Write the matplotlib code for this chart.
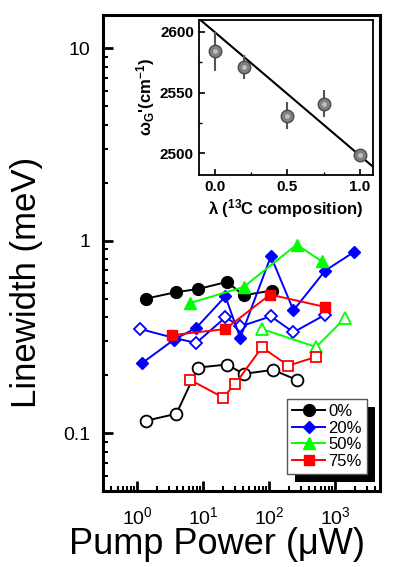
import numpy as np
import matplotlib
matplotlib.use("Agg")
import matplotlib.pyplot as plt
from matplotlib.patches import Rectangle
from matplotlib.transforms import IdentityTransform
from matplotlib.ticker import FixedLocator, NullFormatter, LogLocator

plt.rcParams["font.family"] = ["Liberation Sans", "DejaVu Sans"]
plt.rcParams["mathtext.fontset"] = "custom"
plt.rcParams["mathtext.rm"] = "Liberation Sans"
plt.rcParams["mathtext.it"] = "Liberation Sans:italic"
plt.rcParams["mathtext.bf"] = "Liberation Sans:bold"

# main panel: linewidth vs pump power (filled / open symbols per 13C fraction)
p0_f = [1.37, 3.9, 8.3, 22.9, 40.8, 110]
w0_f = [0.50, 0.54, 0.56, 0.61, 0.52, 0.55]
p0_o = [1.37, 3.9, 8.3, 22.9, 40.8, 114, 261]
w0_o = [0.116, 0.126, 0.219, 0.227, 0.203, 0.213, 0.189]

p20_f = [1.18, 3.6, 7.8, 21.6, 36.3, 106, 233, 706, 1900]
w20_f = [0.231, 0.306, 0.352, 0.513, 0.312, 0.829, 0.434, 0.698, 0.869]
p20_o = [1.11, 3.6, 7.8, 21.6, 36.3, 106, 233, 706]
w20_o = [0.347, 0.312, 0.294, 0.399, 0.358, 0.404, 0.334, 0.412]

p50_f = [6.3, 40.8, 261, 625]
w50_f = [0.474, 0.574, 0.953, 0.780]
p50_o = [77.5, 515, 1420]
w50_o = [0.347, 0.280, 0.396]

p75_f = [3.4, 21.6, 103, 706]
w75_f = [0.323, 0.347, 0.524, 0.452]
p75_o = [6.3, 19.9, 30.5, 77.5, 195, 515]
w75_o = [0.189, 0.153, 0.180, 0.279, 0.224, 0.249]

labels = ["0%", "20%", "50%", "75%"]

# inset: G' frequency vs 13C composition
lam = [0.0, 0.2, 0.5, 0.75, 1.0]
wg = [2584, 2571, 2531, 2541, 2499]
wg_err = [16, 10, 11, 11, 0]
lam_fit = [-0.11, 1.09]
wg_fit = [2611, 2489]

fig = plt.figure(figsize=(3.93, 5.67), dpi=100)
ax = fig.add_axes([0.262, 0.134, 0.705, 0.840])

series = [
    (p0_f, w0_f, p0_o, w0_o, "k", "o", 8.5),
    (p20_f, w20_f, p20_o, w20_o, "#0000ff", "D", 6.5),
    (p50_f, w50_f, p50_o, w50_o, "#00ff00", "^", 8.5),
    (p75_f, w75_f, p75_o, w75_o, "#ff0000", "s", 7),
]
handles = []
for (pf, wf, po, wo, c, m, ms), lab in zip(series, labels):
    ax.plot(po, wo, color=c, marker=m, ms=ms, mfc="white", mec=c, mew=1.3, lw=1.4)
    h, = ax.plot(pf, wf, color=c, marker=m, ms=ms, mfc=c, mec=c, lw=1.4, label=lab)
    handles.append(h)

ax.set_xscale("log")
ax.set_yscale("log")
ax.set_xlim(0.3, 4800)
ax.set_ylim(0.05, 14.9)
ax.yaxis.set_major_locator(FixedLocator([0.1, 1, 10]))
ax.set_yticklabels(["0.1", "1", "10"])
ax.yaxis.set_minor_locator(LogLocator(subs=np.arange(2, 10)))
ax.yaxis.set_minor_formatter(NullFormatter())
ax.xaxis.set_major_locator(FixedLocator([1, 10, 100, 1000]))
ax.xaxis.set_minor_locator(LogLocator(subs=np.arange(2, 10)))
ax.xaxis.set_minor_formatter(NullFormatter())
ax.tick_params(which="both", direction="in", top=False, right=False, labelsize=14)
ax.tick_params(which="major", length=7, width=2)
ax.tick_params(which="minor", length=3.5, width=1.5)
ax.tick_params(axis="y", which="major", pad=9)
ax.tick_params(axis="x", which="major", pad=11)
for s in ax.spines.values():
    s.set_linewidth(2.2)
ax.set_xlabel("Pump Power (\u03bcW)", fontsize=26)
ax.set_ylabel("Linewidth (meV)", fontsize=25)
ax.xaxis.set_label_coords(0.41, -0.076)
ax.yaxis.set_label_coords(-0.215, 0.437)

leg = ax.legend(handles=handles, loc="lower right", bbox_to_anchor=(0.953, 0.036),
                borderaxespad=0, fontsize=12, fancybox=False, framealpha=1,
                edgecolor="#555555", handlelength=2.0, handletextpad=0.2,
                labelspacing=0.1, borderpad=0.3)
leg.get_frame().set_linewidth(1.0)

# inset
ins = fig.add_axes([0.506, 0.691, 0.443, 0.274])
ins.plot(lam_fit, wg_fit, color="k", lw=1.5, zorder=2)
ins.errorbar(lam, wg, yerr=wg_err, fmt="none", ecolor="#555555", elinewidth=1.5, capsize=0, zorder=3)
ins.plot(lam, wg, ls="none", marker="o", ms=9, mfc="#808080", mec="#4a4a4a", mew=1, zorder=4)
ins.plot(lam, wg, ls="none", marker="o", ms=3.5, mfc="#d0d0d0", mec="none", alpha=0.8, zorder=5)
ins.set_xlim(-0.11, 1.09)
ins.set_ylim(2482, 2610)
ins.set_xticks([0, 0.5, 1.0])
ins.set_xticklabels(["0.0", "0.5", "1.0"])
ins.set_xticks([0.25, 0.75], minor=True)
ins.set_yticks([2500, 2550, 2600])
ins.set_yticks([2525, 2575], minor=True)
ins.tick_params(which="both", direction="in", labelsize=11)
ins.tick_params(which="major", length=4, width=1.2)
ins.tick_params(which="minor", length=2, width=1)
for t in ins.get_xticklabels() + ins.get_yticklabels():
    t.set_fontweight("bold")
for s in ins.spines.values():
    s.set_linewidth(1.3)
ins.set_xlabel("\u03bb ($^{\\mathbf{13}}$C composition)", fontsize=12, fontweight="bold", labelpad=2)
ins.set_ylabel("\u03c9$_{\\mathbf{G}}$'(cm$^{\\mathbf{-1}}$)", fontsize=12, fontweight="bold", labelpad=2)

# black drop shadow behind the legend
fig.canvas.draw()
bb = leg.get_window_extent()
ax.add_patch(Rectangle((bb.x0 + 8, bb.y0 - 8), bb.width, bb.height, transform=IdentityTransform(),
                       facecolor="k", edgecolor="none", clip_on=False, zorder=4.5))

fig.savefig("out.png", dpi=100)
